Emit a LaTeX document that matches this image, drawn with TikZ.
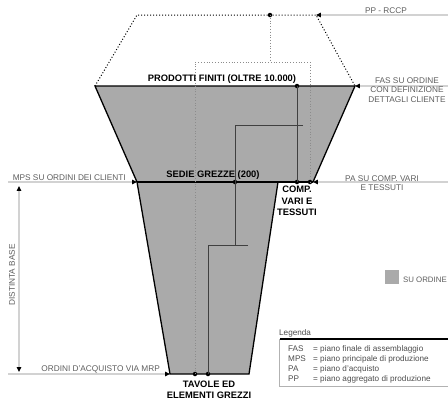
\documentclass[tikz,border=0pt]{standalone}
\usepackage{fontspec}
\setmainfont{Liberation Sans}
\usetikzlibrary{arrows.meta}
\definecolor{pfill}{HTML}{AAAAAA}
\definecolor{pguide}{HTML}{D2D2D2}
\definecolor{ptext}{HTML}{5E5E5E}
\tikzstyle{pshape} = [draw=black, line width=1.3pt, fill=pfill]
\tikzstyle{plevel} = [draw=black, line width=1.3pt]
\tikzstyle{pdot} = [circle, fill=black, inner sep=0pt, minimum size=4.5bp]
\tikzstyle{plink} = [draw=black!75, line width=0.7pt]
\tikzstyle{pplan} = [draw=black, line width=1pt, dotted]
\tikzstyle{pbox} = [draw=black!45, line width=0.8pt, dotted]
\tikzstyle{arrow} = [draw=pguide, line width=1.2pt, -{Triangle[black, length=5pt, width=4.5pt]}]
\tikzstyle{darrow} = [draw=pguide, line width=1.2pt, {Triangle[black, length=5pt, width=4.5pt]}-{Triangle[black, length=5pt, width=4.5pt]}]
\tikzstyle{pstage} = [font=\fontsize{9.4}{11.5}\selectfont\bfseries, align=center, inner sep=0pt]
\tikzstyle{pnote} = [font=\fontsize{8.3}{9.5}\selectfont, text=ptext, align=center, inner sep=0pt]
\tikzstyle{plegend} = [font=\fontsize{8.2}{9.5}\selectfont, text=black!70, inner sep=0pt, anchor=base west]

\begin{document}
\begin{tikzpicture}[x=1bp, y=-1bp]
\useasboundingbox (0,0) rectangle (448,403);
% corners of the shape
\coordinate (pf-l) at (95,86);
\coordinate (pf-r) at (355,86);
\coordinate (sg-l) at (137,182);
\coordinate (sg-r) at (313,182);
\coordinate (sg-m) at (278,182);
\coordinate (tv-l) at (170,374);
\coordinate (tv-r) at (249,374);
\coordinate (pp-l) at (137,15);
\coordinate (pp-r) at (316,15);
% aggregate plan
\draw [pplan] (pf-l) -- (pp-l) -- (pp-r) -- (pf-r);
% make to order part
\draw [pshape] (pf-l) -- (pf-r) -- (sg-r) -- (sg-m) -- (tv-r) -- (tv-l) -- (sg-l) -- cycle;
\draw [plevel] (sg-l) -- (sg-r);
% dots
\node (pp) [pdot] at (270,15) {};
\node (d1) [pdot] at (297,86) {};
\node (d2) [pdot] at (235,182) {};
\node (d3) [pdot] at (297,182) {};
\node (d4) [pdot] at (310,182) {};
\node (d5) [pdot] at (195,374) {};
\node (d6) [pdot] at (208,374) {};
% dotted frame
\coordinate (bx-l) at (195,62);
\coordinate (bx-r) at (310,62);
\draw [pbox] (d5.center) -- (bx-l) -- (bx-r) -- (d4.center);
\draw [pbox] (pp.center) -- (pp.center |- bx-l);
% bill of materials links
\coordinate (ln-a) at (303,125);
\coordinate (ln-b) at (235,125);
\coordinate (ln-c) at (235,245);
\coordinate (ln-d) at (248,245);
\coordinate (ln-e) at (208,245);
\draw [plink] (d1.center) -- (d3.center);
\draw [plink] (ln-a) -- (ln-b) -- (ln-c);
\draw [plink] (ln-d) -- (ln-e) -- (d6.center);
% guide lines
\coordinate (g-pp) at (448,15);
\coordinate (g-fas) at (448,86);
\coordinate (g-pa) at (448,182);
\coordinate (g-mps) at (8,182);
\coordinate (g-mrp) at (8,374);
\coordinate (db-t) at (19,186);
\coordinate (db-b) at (19,372);
\draw [arrow] (g-pp) -- (pp-r);
\draw [arrow] (g-fas) -- (pf-r);
\draw [arrow] (g-pa) -- (sg-r);
\draw [arrow] (g-mps) -- (sg-l);
\draw [arrow] (g-mrp) -- (tv-l);
\draw [darrow] (db-t) -- (db-b);
% labels
\node (pp-t) [pnote] at (386,11) {PP - RCCP};
\node (pf-t) [pstage, anchor=base] at (222,81) {PRODOTTI FINITI (OLTRE 10.000)};
\node (fas-t) [pnote] at (407,90) {FAS SU ORDINE\\CON DEFINIZIONE\\DETTAGLI CLIENTE};
\node (sg-t) [pstage, anchor=base] at (213,177.5) {SEDIE GREZZE (200)};
\node (mps-t) [pnote, anchor=base east] at (126,180) {MPS SU ORDINI DEI CLIENTI};
\node (pa-t) [pnote] at (382,183) {PA SU COMP. VARI\\E TESSUTI};
\node (cv-t) [pstage] at (297,201) {COMP.\\VARI E\\TESSUTI};
\node (tv-t) [pstage] at (209,390) {TAVOLE ED\\ELEMENTI GREZZI};
\node (mrp-t) [pnote, anchor=base east] at (160,371.5) {ORDINI D'ACQUISTO VIA MRP};
\node (db-l) [pnote, rotate=90] at (12,275) {DISTINTA BASE};
% key
\node (so-box) [fill=pfill, minimum size=14bp, inner sep=0pt] at (391.5,276.5) {};
\node (so-t) [pnote, anchor=east, font=\fontsize{7.9}{9.5}\selectfont] at (447,280) {SU ORDINE};
% legend
\node (lg-t) [plegend] at (279,335.5) {Legenda};
\draw [draw=black!30, line width=0.6pt] (279,339) rectangle (456,386);
\draw [line width=1.2pt] (280,339) -- (448,339);
\foreach \ab/\txt [count=\i] in {FAS/piano finale di assemblaggio, MPS/piano principale di produzione, PA/piano d'acquisto, PP/piano aggregato di produzione}
{
  \node [plegend] at (288,341.5+9.9*\i) {\ab};
  \node [plegend] at (313,341.5+9.9*\i) {= \txt};
}
\end{tikzpicture}
\end{document}
